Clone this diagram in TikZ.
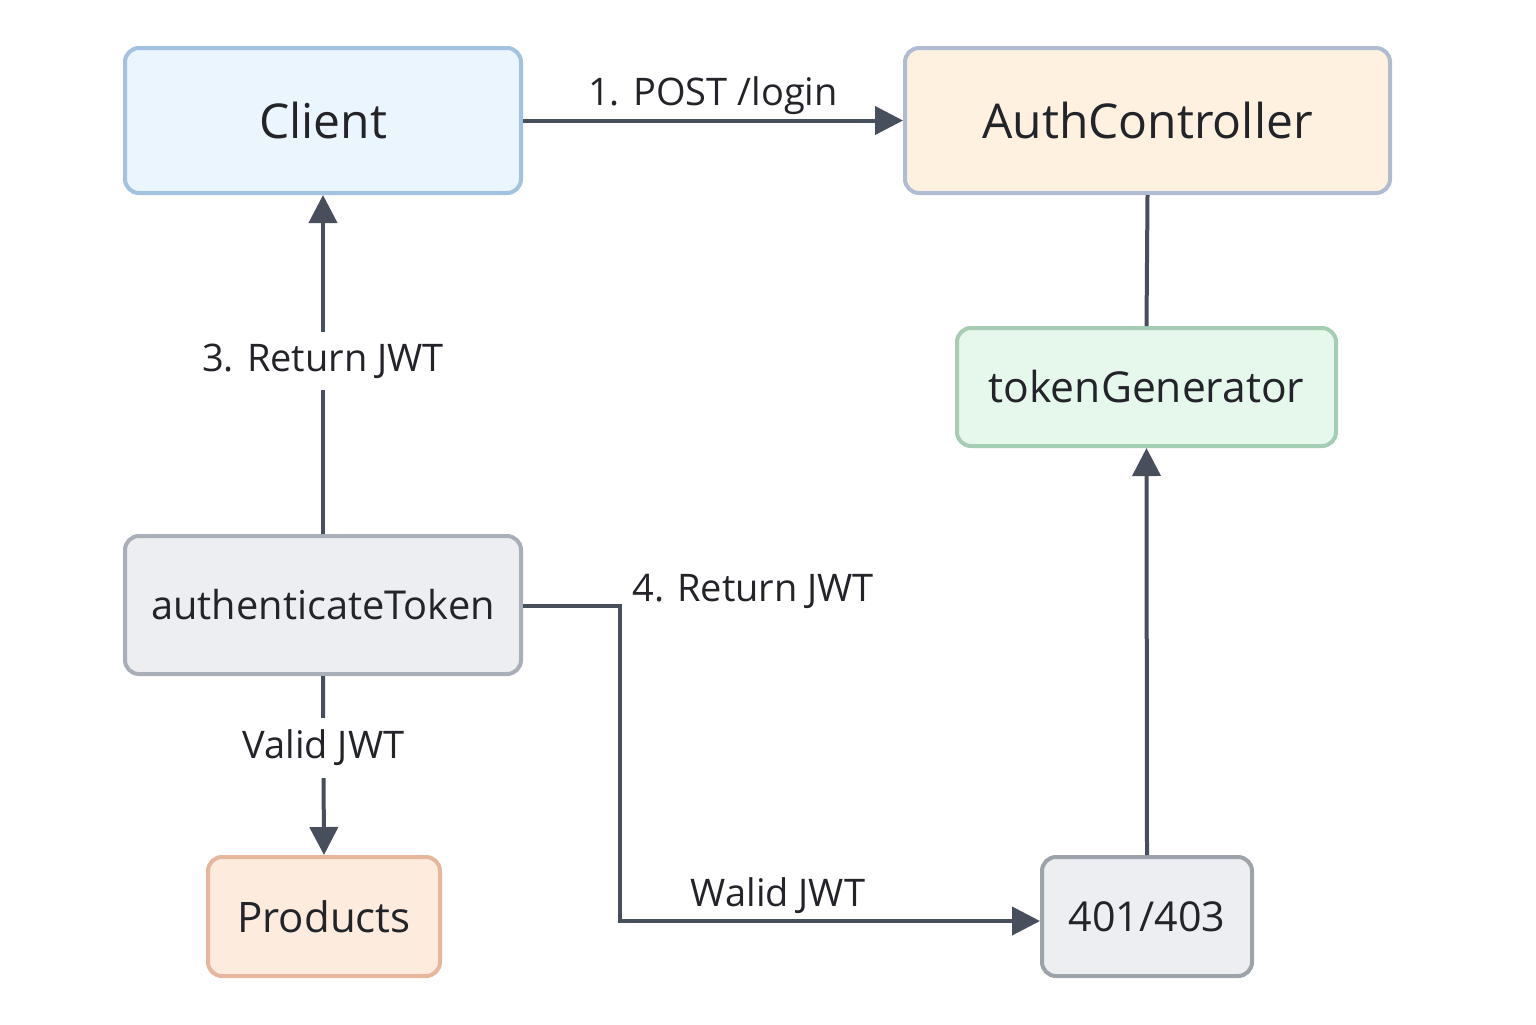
\documentclass[tikz,border=0pt]{standalone}
\usepackage{fontspec}
\setmainfont{Open Sans}
\usetikzlibrary{arrows.meta}
\definecolor{linec}{HTML}{474E5C}
\definecolor{txt}{HTML}{232429}
\definecolor{clientf}{HTML}{EAF5FE}\definecolor{clientd}{HTML}{A3C1E0}
\definecolor{authf}{HTML}{FEF1DF}\definecolor{authd}{HTML}{B0BCD2}
\definecolor{tokf}{HTML}{E6F7EB}\definecolor{tokd}{HTML}{A5CDB3}
\definecolor{grayf}{HTML}{ECEEF2}\definecolor{grayd}{HTML}{A8AFB9}
\definecolor{prodf}{HTML}{FDECDD}\definecolor{prodd}{HTML}{E6B79D}
\definecolor{errd}{HTML}{9DA3AB}
\tikzset{
  box/.style={draw, line width=2pt, rounded corners=7pt, inner sep=0pt, text=txt, align=center},
  conn/.style={draw=linec, line width=2pt},
  arr/.style={conn, -{Triangle[length=14pt,width=14pt]}},
  lbl/.style={text=txt, font=\fontsize{19}{22}\selectfont, inner sep=2pt},
  gaplbl/.style={lbl, fill=white, inner ysep=6pt}
}
\begin{document}
\begin{tikzpicture}[x=0.5pt,y=-0.5pt]
\useasboundingbox[fill=white] (0,0) rectangle (1536,1024);
\node[box, fill=clientf, draw=clientd, minimum width=198pt, minimum height=72.5pt, font=\fontsize{24}{28}\selectfont] (client) at (323,120.5) {Client};
\node[box, fill=authf, draw=authd, minimum width=242.5pt, minimum height=72.5pt, font=\fontsize{24}{28}\selectfont] (authc) at (1147.5,120.5) {AuthController};
\node[box, fill=tokf, draw=tokd, minimum width=189.5pt, minimum height=59pt, font=\fontsize{21.3}{25}\selectfont] (tok) at (1146.5,387) {tokenGenerator};
\node[box, fill=grayf, draw=grayd, minimum width=198pt, minimum height=69pt, font=\fontsize{19.9}{23}\selectfont] (authn) at (323,605) {authenticateToken};
\node[box, fill=prodf, draw=prodd, minimum width=116pt, minimum height=59.5pt, font=\fontsize{21}{25}\selectfont] (prod) at (324,916.5) {Products};
\node[box, fill=grayf, draw=errd, minimum width=105pt, minimum height=59.5pt, font=\fontsize{20.6}{24}\selectfont] (err) at (1147,916.5) {401/403};

\draw[arr] (client.east) -- (authc.west) node[lbl, midway, above=0pt] (l1) {1. POST /login};
\draw[conn] (authc.south) -- (tok.north);
\draw[arr] (err.north) -- (tok.south);
\draw[arr] (authn.north) -- (client.south) node[gaplbl, pos=0.51] (l3) {3. Return JWT};
\draw[arr] (authn.south) -- (prod.north) node[gaplbl, pos=0.40] (lv) {Valid JWT};
\coordinate (bend) at (620,606);
\draw[arr] (authn.east |- bend) -- (bend) |- ([yshift=-2.25pt]err.west);
\node[lbl, anchor=west] (l4) at (628,591) {4. Return JWT};
\node[lbl] (lw) at (778,896) {Walid JWT};
\end{tikzpicture}
\end{document}
